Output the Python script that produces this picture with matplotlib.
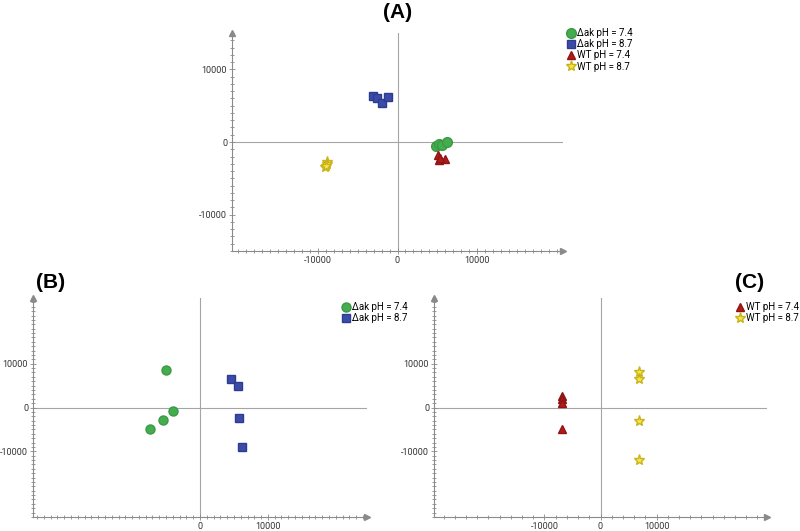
import numpy as np
import matplotlib
matplotlib.use("Agg")
import matplotlib.pyplot as plt
from matplotlib.ticker import MultipleLocator, FixedLocator

plt.rcParams['font.family'] = ['Roboto', 'DejaVu Sans']
plt.rcParams['axes.unicode_minus'] = False

# panel A: all four groups
a_dak74_x = [4900, 5250, 5600, 6250]
a_dak74_y = [-550, -270, -400, 0]
a_dak87_x = [-3100, -2600, -1900, -1250]
a_dak87_y = [6300, 6000, 5300, 6150]
a_wt74_x = [5100, 5250, 6000, 5400]
a_wt74_y = [-1800, -2450, -2300, -2200]
a_wt87_x = [-8900, -9100, -8900, -9000]
a_wt87_y = [-2750, -3400, -3000, -3300]

# panel B: delta ak only
b_dak74_x = [-5000, -4000, -5400, -7350]
b_dak74_y = [8600, -900, -2950, -5000]
b_dak87_x = [4550, 5600, 5750, 6200]
b_dak87_y = [6400, 4800, -2300, -9100]

# panel C: WT only
c_wt74_x = [-6800, -6800, -6800, -6800]
c_wt74_y = [2700, 2000, 1000, -5000]
c_wt87_x = [6900, 6900, 6900, 6900]
c_wt87_y = [8200, 6600, -3000, -12000]

lbl_dak74 = "\u0394ak pH = 7.4"
lbl_dak87 = "\u0394ak pH = 8.7"
lbl_wt74 = "WT pH = 7.4"
lbl_wt87 = "WT pH = 8.7"

W, H = 800, 531
fig = plt.figure(figsize=(8, 5.31), dpi=100)

styles = {
    'dak74': dict(marker='o', color='#45ad4f', mec='#3a9a44'),
    'dak87': dict(marker='s', color='#3b4ba8', mec='#2e3c8f'),
    'wt74': dict(marker='^', color='#b01c1c', mec='#8f1414'),
    'wt87': dict(marker='*', color='#f5e44a', mec='#c8b41a'),
}


def make_axes(l, r, t, b, xlim, ylim, xticks, minor_x):
    ax = fig.add_axes([l / W, 1 - b / H, (r - l) / W, (b - t) / H])
    ax.set_xlim(*xlim)
    ax.set_ylim(*ylim)
    for s in ['top', 'right']:
        ax.spines[s].set_visible(False)
    for s in ['left', 'bottom']:
        ax.spines[s].set_color('#8a8a8a')
        ax.spines[s].set_linewidth(0.8)
    ax.axhline(0, color='#a5a5a5', lw=0.8, zorder=1)
    ax.axvline(0, color='#a5a5a5', lw=0.8, zorder=1)
    ax.xaxis.set_major_locator(FixedLocator(xticks))
    ax.yaxis.set_major_locator(FixedLocator([-10000, 0, 10000]))
    ax.xaxis.set_minor_locator(MultipleLocator(minor_x))
    ax.yaxis.set_minor_locator(MultipleLocator(1000))
    ax.tick_params(which='both', direction='inout', color='#8a8a8a',
                   width=0.6, labelsize=6.5, labelcolor='#333333', pad=1.5)
    ax.tick_params(which='major', length=4)
    ax.tick_params(which='minor', length=2.5)
    ax.plot(1, 0, '>', color='#8a8a8a', ms=4, transform=ax.transAxes, clip_on=False)
    ax.plot(0, 1, '^', color='#8a8a8a', ms=4, transform=ax.transAxes, clip_on=False)
    return ax


def legend(ax, x, y):
    ax.legend(loc='upper left', bbox_to_anchor=(x / W, 1 - y / H),
              bbox_transform=fig.transFigure, frameon=False, fontsize=7,
              handlelength=0.6, handletextpad=0.35, labelspacing=0.12,
              borderpad=0, borderaxespad=0)


# (A)
axA = make_axes(232, 563, 33, 251, (-20800, 20800), (-15000, 15000),
                [-10000, 0, 10000], 1000)
axA.plot(a_dak74_x, a_dak74_y, ls='none', ms=7, label=lbl_dak74, **styles['dak74'])
axA.plot(a_dak87_x, a_dak87_y, ls='none', ms=6, label=lbl_dak87, **styles['dak87'])
axA.plot(a_wt74_x, a_wt74_y, ls='none', ms=6, label=lbl_wt74, **styles['wt74'])
axA.plot(a_wt87_x, a_wt87_y, ls='none', ms=8, label=lbl_wt87, **styles['wt87'])
legend(axA, 568, 28)
fig.text(398 / W, 1 - 12 / H, "(A)", ha='center', va='center',
         fontsize=15, fontweight='bold', family=['Liberation Sans', 'DejaVu Sans'])

# (B)
axB = make_axes(33, 367, 298, 517, (-24600, 24600), (-25000, 25000),
                [0, 10000], 1000)
axB.plot(b_dak74_x, b_dak74_y, ls='none', ms=6.5, label=lbl_dak74, **styles['dak74'])
axB.plot(b_dak87_x, b_dak87_y, ls='none', ms=5.5, label=lbl_dak87, **styles['dak87'])
legend(axB, 343, 302)
fig.text(51 / W, 1 - 282 / H, "(B)", ha='center', va='center',
         fontsize=15, fontweight='bold', family=['Liberation Sans', 'DejaVu Sans'])

# (C)
axC = make_axes(434, 767, 298, 517, (-29700, 29700), (-25000, 25000),
                [-10000, 0, 10000], 2000)
axC.plot(c_wt74_x, c_wt74_y, ls='none', ms=6, label=lbl_wt74, **styles['wt74'])
axC.plot(c_wt87_x, c_wt87_y, ls='none', ms=8, label=lbl_wt87, **styles['wt87'])
legend(axC, 737, 302)
fig.text(750 / W, 1 - 282 / H, "(C)", ha='center', va='center',
         fontsize=15, fontweight='bold', family=['Liberation Sans', 'DejaVu Sans'])

fig.savefig('out.png', dpi=100)
